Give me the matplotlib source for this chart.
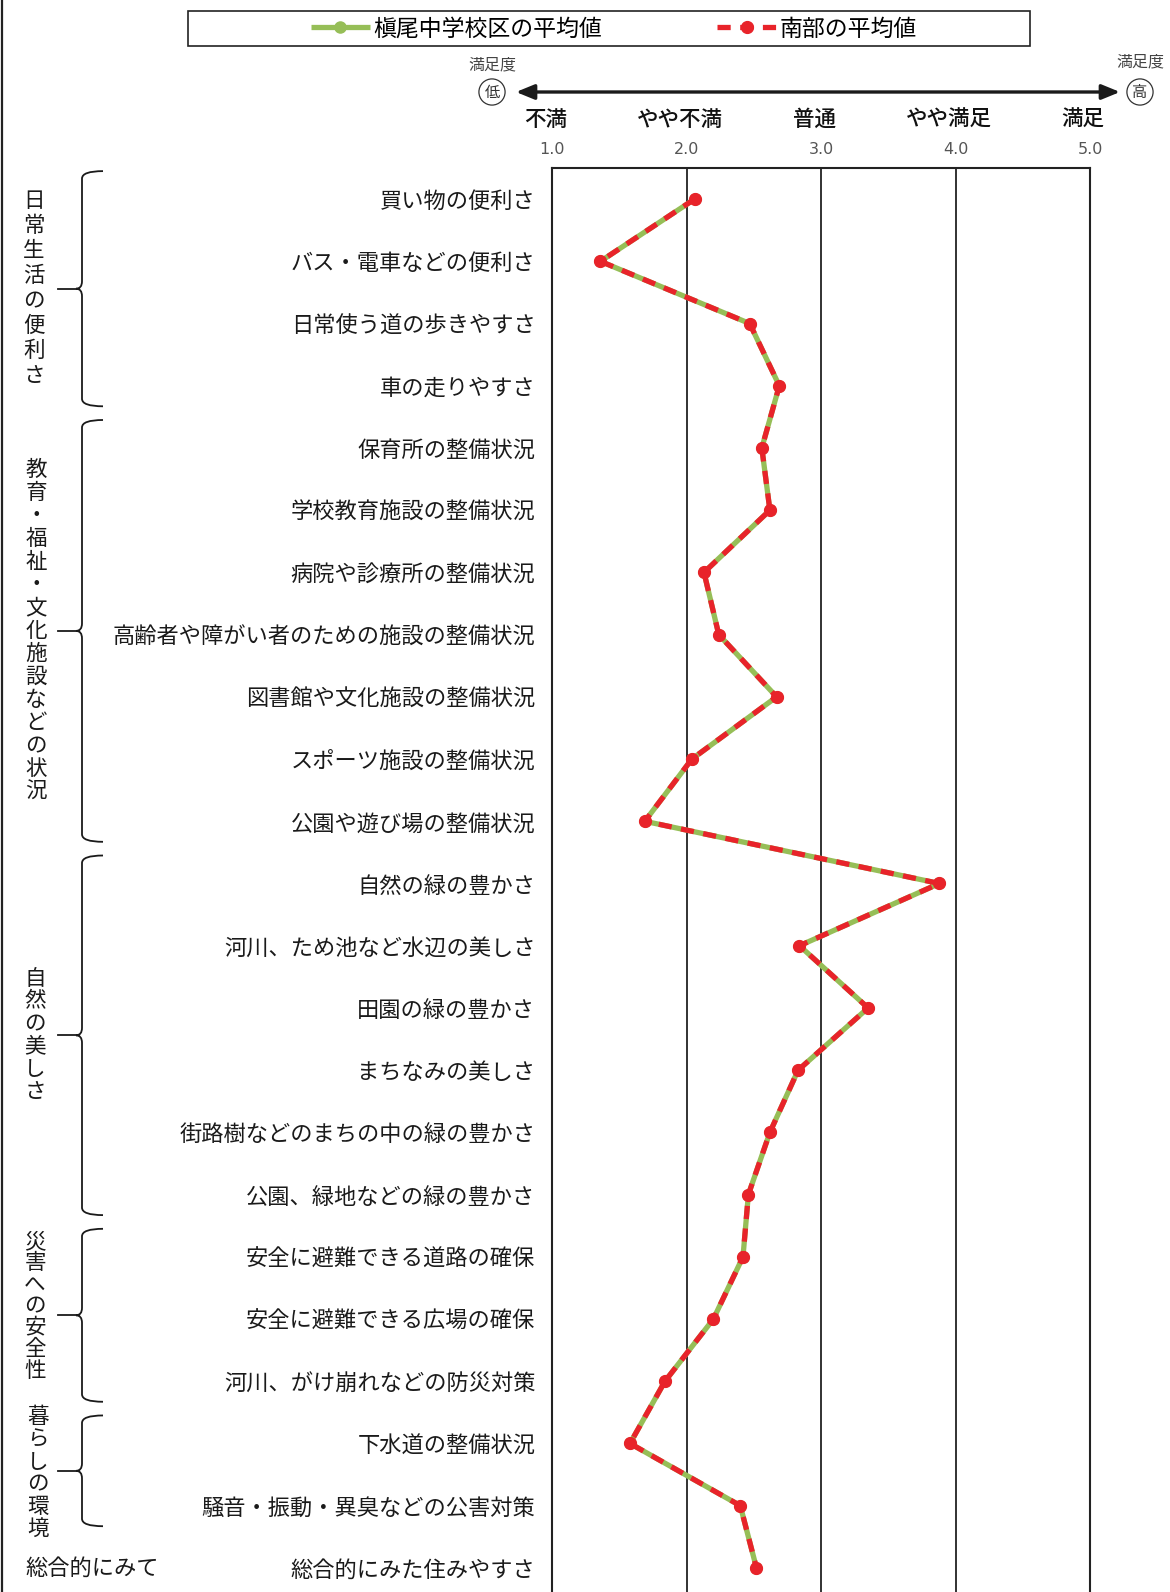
import matplotlib
matplotlib.use('Agg')
import matplotlib.pyplot as plt
from matplotlib import transforms
from matplotlib.path import Path
from matplotlib.patches import PathPatch, Rectangle, FancyArrowPatch
from matplotlib.lines import Line2D

plt.rcParams['font.family'] = ['Noto Sans CJK JP', 'DejaVu Sans']

# ---------------- data ----------------
items = [
    '買い物の便利さ',
    'バス・電車などの便利さ',
    '日常使う道の歩きやすさ',
    '車の走りやすさ',
    '保育所の整備状況',
    '学校教育施設の整備状況',
    '病院や診療所の整備状況',
    '高齢者や障がい者のための施設の整備状況',
    '図書館や文化施設の整備状況',
    'スポーツ施設の整備状況',
    '公園や遊び場の整備状況',
    '自然の緑の豊かさ',
    '河川、ため池など水辺の美しさ',
    '田園の緑の豊かさ',
    'まちなみの美しさ',
    '街路樹などのまちの中の緑の豊かさ',
    '公園、緑地などの緑の豊かさ',
    '安全に避難できる道路の確保',
    '安全に避難できる広場の確保',
    '河川、がけ崩れなどの防災対策',
    '下水道の整備状況',
    '騒音・振動・異臭などの公害対策',
    '総合的にみた住みやすさ',
]
kimao = [2.06, 1.36, 2.47, 2.69, 2.56, 2.62, 2.13, 2.24, 2.67, 2.04, 1.69,
         3.88, 2.84, 3.35, 2.83, 2.62, 2.46, 2.42, 2.20, 1.84, 1.58, 2.40, 2.52]
nanbu = [2.06, 1.36, 2.47, 2.69, 2.56, 2.62, 2.13, 2.24, 2.67, 2.04, 1.69,
         3.88, 2.84, 3.35, 2.83, 2.62, 2.46, 2.42, 2.20, 1.84, 1.58, 2.40, 2.52]
series_labels = ['槇尾中学校区の平均値', '南部の平均値']

groups = ['日常生活の便利さ', '教育・福祉・文化施設などの状況', '自然の美しさ',
          '災害への安全性', '暮らしの環境']
group_first = [0, 4, 11, 17, 20]
group_last = [3, 10, 16, 19, 21]
overall_group = '総合的にみて'

scale_words = ['不満', 'やや不満', '普通', 'やや満足', '満足']
scale_values = [1, 2, 3, 4, 5]
scale_ticklabels = ['1.0', '2.0', '3.0', '4.0', '5.0']
end_caption = '満足度'
low_mark, high_mark = '低', '高'

# ---------------- layout ----------------
W, H = 1170, 1592
fig = plt.figure(figsize=(W / 100, H / 100), dpi=100)


def fx(px):
    return px / W


def fy(py):
    return 1 - py / H


ax_top, ax_bot = 168, 1599
ax = fig.add_axes([fx(552), fy(ax_bot), fx(1090) - fx(552), (ax_bot - ax_top) / H])

GREEN = '#96BE57'
RED = '#E8232A'

ypos = list(range(len(items)))
l1, = ax.plot(kimao, ypos, color=GREEN, lw=3.8, marker='o', ms=8,
              mfc=GREEN, mec=GREEN, zorder=3, solid_capstyle='butt')
l2, = ax.plot(nanbu, ypos, color=RED, lw=3.8, ls=(0, (2.5, 1.8)), marker='o',
              ms=8.5, mfc=RED, mec=RED, zorder=4, dash_capstyle='butt')

ax.set_xlim(1, 5)
ax.set_ylim(len(items) - 0.5, -0.5)
ax.set_xticks(scale_values, scale_ticklabels)
ax.xaxis.tick_top()
ax.tick_params(axis='x', length=0, pad=8, labelsize=11.5, labelcolor='#555555')
for t in ax.get_xticklabels():
    t.set_fontfamily(['Liberation Sans Narrow', 'DejaVu Sans'])
ax.set_yticks(ypos, items)
ax.tick_params(axis='y', length=0, pad=12, labelsize=16, labelcolor='#1a1a1a')
ax.grid(axis='x', color='#222222', lw=1.3)
ax.set_axisbelow(True)
for s in ax.spines.values():
    s.set_linewidth(1.5)
    s.set_color('#222222')

# scale words above the numbers
tx = transforms.blended_transform_factory(ax.transData, fig.transFigure)
for v, w in zip(scale_values, scale_words):
    fig.text(v - 0.05, fy(126), w, transform=tx, ha='center', va='baseline',
             fontsize=15.5, color='#111111', fontweight='medium')

# arrow with circled end marks
arrow = FancyArrowPatch((fx(516), fy(92)), (fx(1120), fy(92)), transform=fig.transFigure,
                        arrowstyle='<|-|>,head_length=1.1,head_width=0.45',
                        mutation_scale=10, lw=2.4, color='#1a1a1a',
                        shrinkA=0, shrinkB=0)
fig.add_artist(arrow)
for cx, cap_y, mark in [(492, 65, low_mark), (1140, 62, high_mark)]:
    fig.text(fx(cx), fy(cap_y), end_caption, ha='center', va='center',
             fontsize=11.5, color='#444444')
    fig.text(fx(cx), fy(92), mark, ha='center', va='center', fontsize=11,
             color='#333333',
             bbox=dict(boxstyle='circle,pad=0.3', fc='white', ec='#333333', lw=0.9))

# legend
fig.add_artist(Rectangle((fx(188), fy(46)), fx(1030) - fx(188), (46 - 11) / H,
                         transform=fig.transFigure, fill=False, ec='#222222', lw=1.2))
fig.legend([l1, l2], series_labels, loc='center', bbox_to_anchor=(fx(614), fy(29)),
           ncol=2, frameon=False, fontsize=16.5, handlelength=2.6,
           handletextpad=0.15, columnspacing=5.0, borderpad=0, numpoints=1)

# group braces and labels
bt = transforms.blended_transform_factory(fig.transFigure, ax.transData)
xv, xh, xc, xt = fx(82), fx(103), fx(76), fx(58)
r = 0.12
label_steps = [25, 23, 22.5, 21.5, 22.5]
label_shift = [0, 0, 0, 9, -2]          # pixels, positive = upwards
label_x = [34, 36, 35, 35, 38]
for k, (name, a, b) in enumerate(zip(groups, group_first, group_last)):
    top = a - 0.45
    bot = b + 0.33
    mid = (top + bot) / 2
    verts = [(xh, top), (xv, top), (xv, top + r),
             (xv, mid - r), (xv, mid), (xc, mid),
             (xv, mid), (xv, mid + r),
             (xv, bot - r), (xv, bot), (xh, bot)]
    codes = [Path.MOVETO, Path.CURVE3, Path.CURVE3,
             Path.LINETO, Path.CURVE3, Path.CURVE3,
             Path.CURVE3, Path.CURVE3,
             Path.LINETO, Path.CURVE3, Path.CURVE3]
    ax.add_patch(PathPatch(Path(verts, codes), transform=bt, fill=False,
                           ec='#1a1a1a', lw=1.3, clip_on=False))
    ax.add_line(Line2D([xt, xc], [mid, mid], transform=bt, color='#1a1a1a',
                       lw=1.3, clip_on=False))
    n = len(name)
    step = label_steps[k]
    for i, ch in enumerate(name):
        off = transforms.offset_copy(bt, fig=fig, x=0,
                                     y=-(i - (n - 1) / 2) * step + label_shift[k],
                                     units='dots')
        ax.text(fx(label_x[k]), mid, ch, transform=off, ha='center', va='center',
                fontsize=15.5, color='#1a1a1a', clip_on=False)

ax.text(fx(25), len(items) - 1, overall_group, transform=bt, ha='left', va='center',
        fontsize=16, color='#1a1a1a', clip_on=False)

# outer frame line on the left edge
fig.add_artist(Line2D([fx(2), fx(2)], [0, 1], transform=fig.transFigure,
                      color='#222222', lw=1.6))

fig.savefig('out.png', dpi=100)
